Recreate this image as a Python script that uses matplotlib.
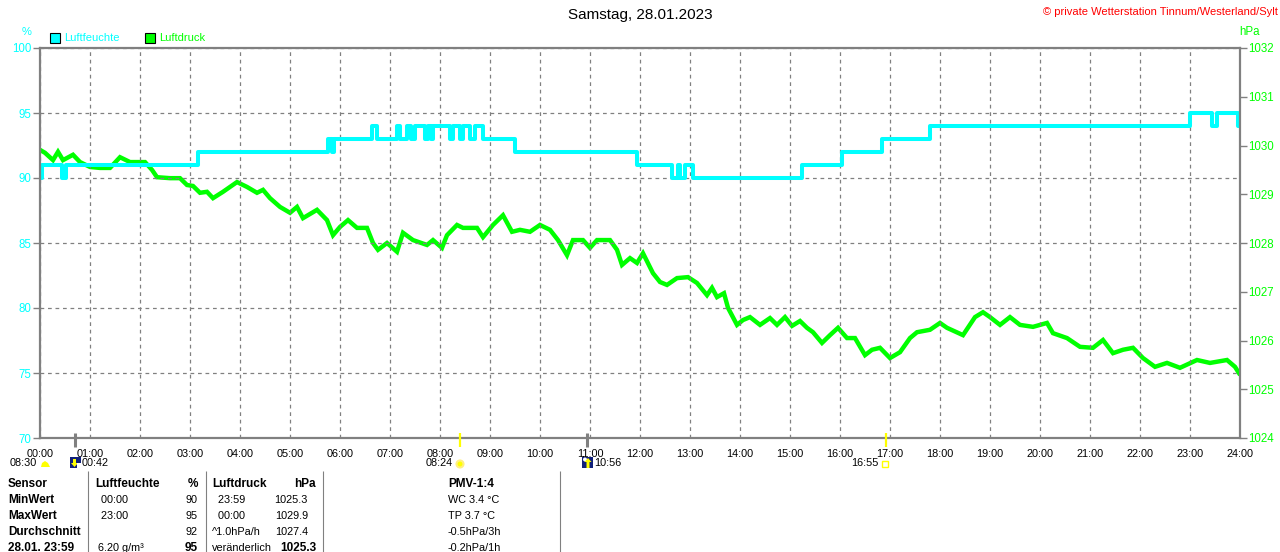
import numpy as np
import matplotlib.pyplot as plt
from matplotlib.patches import Rectangle, Circle, Polygon

plt.rcParams['font.family'] = ['Liberation Sans', 'DejaVu Sans']

W, H = 1280, 552

# Luftfeuchte (%): Zeitpunkt der Aenderung (h) und neuer Wert (Stufen)
hum_t = [0.00, 0.04, 0.44, 0.52, 3.16, 5.76, 5.84, 5.88, 6.64, 6.74, 7.14, 7.20,
         7.34, 7.42, 7.50, 7.70, 7.76, 7.82, 7.86, 8.20, 8.26, 8.40, 8.46, 8.60,
         8.70, 8.86, 9.50, 11.94, 12.64, 12.76, 12.80, 12.90, 13.06, 15.24, 16.04,
         16.84, 17.80, 23.00, 23.44, 23.54, 23.96, 24.00]
hum_v = [90, 91, 90, 91, 92, 93, 92, 93, 94, 93, 94, 93,
         94, 93, 94, 93, 94, 93, 94, 93, 94, 93, 94, 93,
         94, 93, 92, 91, 90, 91, 90, 91, 90, 91, 92,
         93, 94, 95, 94, 95, 94, 94]

# Luftdruck (hPa)
p_t = [0.00, 0.10, 0.26, 0.36, 0.46, 0.66, 0.80, 1.00, 1.20, 1.40, 1.60, 1.80,
       2.10, 2.24, 2.34, 2.60, 2.80, 2.94, 3.06, 3.20, 3.34, 3.46, 3.66, 3.94,
       4.14, 4.34, 4.46, 4.60, 4.80, 5.00, 5.14, 5.26, 5.54, 5.74, 5.86, 6.00,
       6.16, 6.34, 6.54, 6.66, 6.76, 6.94, 7.14, 7.26, 7.46, 7.74, 7.86, 8.04,
       8.14, 8.34, 8.46, 8.74, 8.86, 9.06, 9.26, 9.44, 9.60, 9.80, 10.00, 10.20,
       10.36, 10.54, 10.66, 10.86, 11.00, 11.14, 11.40, 11.54, 11.64, 11.80, 11.94, 12.06,
       12.26, 12.40, 12.54, 12.74, 12.96, 13.14, 13.34, 13.44, 13.54, 13.68, 13.76, 13.94,
       14.06, 14.20, 14.40, 14.60, 14.74, 14.90, 15.04, 15.20, 15.34, 15.46, 15.64, 15.80,
       15.96, 16.14, 16.30, 16.50, 16.64, 16.80, 17.00, 17.20, 17.40, 17.54, 17.80, 18.00,
       18.14, 18.46, 18.70, 18.86, 19.00, 19.20, 19.40, 19.60, 19.86, 20.14, 20.26, 20.54,
       20.80, 21.06, 21.26, 21.46, 21.66, 21.86, 22.06, 22.30, 22.54, 22.80, 23.14, 23.40,
       23.74, 23.90, 23.98]
p_v = [1029.91, 1029.85, 1029.70, 1029.87, 1029.70, 1029.81, 1029.66, 1029.56, 1029.54, 1029.54, 1029.76, 1029.66,
       1029.66, 1029.50, 1029.35, 1029.33, 1029.33, 1029.19, 1029.17, 1029.03, 1029.05, 1028.92, 1029.05, 1029.25,
       1029.15, 1029.03, 1029.09, 1028.92, 1028.74, 1028.62, 1028.74, 1028.51, 1028.68, 1028.47, 1028.16, 1028.33,
       1028.47, 1028.31, 1028.31, 1028.00, 1027.86, 1028.00, 1027.82, 1028.21, 1028.06, 1027.96, 1028.06, 1027.90,
       1028.16, 1028.37, 1028.31, 1028.31, 1028.12, 1028.37, 1028.57, 1028.23, 1028.27, 1028.23, 1028.37, 1028.27,
       1028.06, 1027.75, 1028.06, 1028.06, 1027.90, 1028.06, 1028.06, 1027.86, 1027.55, 1027.69, 1027.59, 1027.79,
       1027.38, 1027.20, 1027.14, 1027.28, 1027.30, 1027.18, 1026.93, 1027.08, 1026.89, 1026.97, 1026.67, 1026.32,
       1026.42, 1026.48, 1026.32, 1026.46, 1026.32, 1026.48, 1026.30, 1026.40, 1026.26, 1026.17, 1025.95, 1026.11,
       1026.26, 1026.05, 1026.05, 1025.70, 1025.81, 1025.85, 1025.64, 1025.76, 1026.05, 1026.17, 1026.22, 1026.36,
       1026.26, 1026.11, 1026.48, 1026.58, 1026.48, 1026.32, 1026.48, 1026.32, 1026.28, 1026.36, 1026.15, 1026.05,
       1025.87, 1025.85, 1026.01, 1025.74, 1025.81, 1025.85, 1025.64, 1025.46, 1025.54, 1025.44, 1025.60, 1025.54,
       1025.60, 1025.46, 1025.33]

hours = list(range(25))
hour_labels = [f'{h:02d}:00' for h in hours]
hum_ticks = [70, 75, 80, 85, 90, 95, 100]
p_ticks = [1024, 1025, 1026, 1027, 1028, 1029, 1030, 1031, 1032]

# Mond- und Sonnenzeiten (h)
moon_times = [0.70, 10.93]
sun_times = [8.40, 16.92]

# Tabelle unten
tab_sensor = ['Sensor', 'MinWert', 'MaxWert', 'Durchschnitt', '28.01. 23:59']
tab_rf_time = ['Luftfeuchte', '  00:00', '  23:00', '', ' 6.20 g/m³']
tab_rf_val = ['%', '90', '95', '92', '95']
tab_ld_time = ['Luftdruck', '  23:59', '  00:00', '^1.0hPa/h', 'veränderlich']
tab_ld_val = ['hPa', '1025.3', '1029.9', '1027.4', '1025.3']
tab_pmv = ['PMV-1:4', 'WC 3.4 °C', 'TP 3.7 °C', '-0.5hPa/3h', '-0.2hPa/1h']

CYAN = '#00FFFF'
GREEN = '#00FF00'
GRAY = '#808080'
YELLOW = '#FFFF00'
NAVY = '#10207A'

fig = plt.figure(figsize=(W / 100, H / 100), dpi=100)

ax = fig.add_axes([40 / W, 1 - 438 / H, 1200 / W, 390 / H])
ax2 = ax.twinx()
ax.set_zorder(2)
ax2.set_zorder(1)
ax.patch.set_visible(False)

ax2.plot(p_t, p_v, color=GREEN, lw=3.2, solid_joinstyle='miter')
ax.plot(hum_t, hum_v, color=CYAN, lw=2.9, drawstyle='steps-post')

ax.set_xlim(0, 24)
ax.set_ylim(70, 100)
ax2.set_ylim(1024, 1032)
ax.set_xticks(hours)
ax.set_xticklabels(hour_labels)
ax.set_yticks(hum_ticks)
ax2.set_yticks(p_ticks)

ax.grid(True, color=GRAY, ls=(0, (3, 3)), lw=0.9)

for s in ax.spines.values():
    s.set_color(GRAY)
    s.set_linewidth(1.6)
for s in ax2.spines.values():
    s.set_visible(False)
ax.spines['right'].set_visible(True)

ax.tick_params(axis='x', length=0, pad=8, labelsize=7.8, labelcolor='black')
ax.tick_params(axis='y', colors=GRAY, labelcolor=CYAN, length=5, width=1, labelsize=8.3, pad=1)
ax2.tick_params(axis='y', colors=GRAY, labelcolor=GREEN, length=5, width=1, labelsize=8.3, pad=1)

# Mond- / Sonnenmarken an der Zeitachse
ax.vlines(moon_times, -0.023, 0.013, transform=ax.get_xaxis_transform(),
          colors=GRAY, lw=2.2, clip_on=False, zorder=5)
ax.vlines(sun_times, -0.023, 0.013, transform=ax.get_xaxis_transform(),
          colors=YELLOW, lw=1.6, clip_on=False, zorder=5)

# Ebene fuer Texte und Symbole in Pixelkoordinaten
ov = fig.add_axes([0, 0, 1, 1], zorder=10)
ov.set_xlim(0, W)
ov.set_ylim(H, 0)
ov.axis('off')
ov.patch.set_visible(False)

ov.text(640, 15, 'Samstag, 28.01.2023', ha='center', va='center', fontsize=11)
ov.text(1278, 12, '© private Wetterstation Tinnum/Westerland/Sylt', ha='right',
        va='center', fontsize=8, color='red')
ov.text(27, 32, '%', ha='center', va='center', fontsize=8, color=CYAN)
ov.text(1250, 32, 'hPa', ha='center', va='center', fontsize=8.3, color=GREEN)

ov.add_patch(Rectangle((50, 33), 10, 10, fc=CYAN, ec='black', lw=0.8))
ov.text(64, 38, 'Luftfeuchte', va='center', fontsize=8, color=CYAN)
ov.add_patch(Rectangle((145, 33), 10, 10, fc=GREEN, ec='black', lw=0.8))
ov.text(159, 38, 'Luftdruck', va='center', fontsize=8, color=GREEN)

# Astro-Zeilen
ov.text(37, 463, '08:30', ha='right', va='center', fontsize=7.8)
ov.add_patch(Polygon([(41, 467), (42, 463), (45, 461), (48, 463), (50, 467)], fc=YELLOW, ec='none'))
ov.add_patch(Rectangle((70, 457), 11, 11, fc=NAVY, ec='none'))
ov.add_patch(Polygon([(73, 459), (76, 459), (76, 463), (78, 463), (74.5, 467), (71, 463), (73, 463)], fc=YELLOW, ec='none'))
ov.add_patch(Rectangle((77, 463), 4, 5, fc='white', ec='none'))
ov.text(82, 463, '00:42', ha='left', va='center', fontsize=7.8)
ov.text(453, 463, '08:24', ha='right', va='center', fontsize=7.8)
ov.add_patch(Circle((460, 464), 3.5, fc=YELLOW, ec='#FFF080', lw=1.5))
ov.add_patch(Rectangle((582, 457), 11, 11, fc=NAVY, ec='none'))
ov.add_patch(Circle((585, 459.5), 2, fc='white', ec='none'))
ov.add_patch(Polygon([(588, 458), (591.5, 462), (589.5, 462), (589.5, 468), (586.5, 468), (586.5, 462), (584.5, 462)], fc=YELLOW, ec='none'))
ov.text(594, 463, '10:56', ha='left', va='center', fontsize=7.8)
ov.text(879, 463, '16:55', ha='right', va='center', fontsize=7.8)
ov.add_patch(Rectangle((882, 461), 6, 6, fc='none', ec=YELLOW, lw=1))

# Tabelle
ov.vlines([88, 206, 323, 560], 471, H, colors=GRAY, lw=0.8)
row_y = [484, 500, 516, 532, 548]
for i, y in enumerate(row_y):
    head = 'bold' if i == 0 else 'normal'
    last = 'bold' if i in (0, len(row_y) - 1) else 'normal'
    fs = 8.5 if i == 0 else 7.8
    ov.text(8, y, tab_sensor[i], va='center', fontsize=8.5, fontweight='bold')
    ov.text(95, y, tab_rf_time[i], va='center', fontsize=fs, fontweight=head)
    ov.text(198, y, tab_rf_val[i], ha='right', va='center',
            fontsize=8.5 if last == 'bold' else 7.8, fontweight=last)
    ov.text(212, y, tab_ld_time[i], va='center', fontsize=fs, fontweight=head)
    ov.text(316 if last == 'bold' else 308, y, tab_ld_val[i], ha='right', va='center',
            fontsize=8.5 if last == 'bold' else 7.8, fontweight=last)
    ov.text(448, y, tab_pmv[i], va='center', fontsize=fs, fontweight=head)

fig.savefig('out.png', dpi=100)
